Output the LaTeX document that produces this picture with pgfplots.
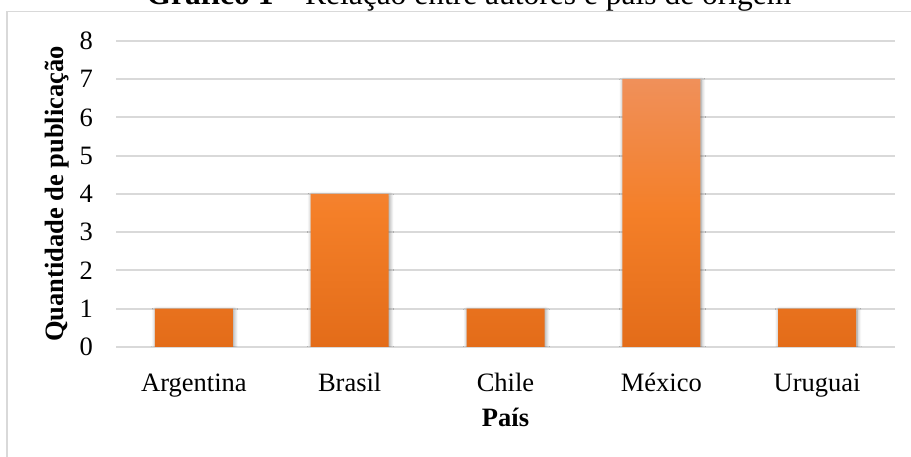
\documentclass[border=0pt]{standalone}
\usepackage{fontspec}
\setmainfont{Liberation Serif}
\usepackage{pgfplots}
\pgfplotsset{compat=1.18}
\usetikzlibrary{shadows.blur}

\definecolor{gridgray}{HTML}{D9D9D9}
\definecolor{framegray}{HTML}{D9D9D9}
\definecolor{barTop}{HTML}{F0905A}
\definecolor{barMid}{HTML}{F47F28}
\definecolor{barBot}{HTML}{E36C19}

\newcommand{\lblfont}{\fontsize{26.5}{31}\selectfont}

\begin{document}
\begin{tikzpicture}[x=1pt,y=1pt]
\useasboundingbox (0,0) rectangle (911,457);
% chart frame (only its left and top edges fall inside the page)
\draw[framegray, line width=1.3pt] (7,-20) -- (7,445.3) -- (940,445.3);
% caption
\node[anchor=base, inner sep=0pt, font=\fontsize{31.5}{36}\selectfont]
  at (469,452) {\textbf{Gráfico 1} – Relação entre autores e país de origem};
\begin{axis}[
  at={(116pt,110pt)}, anchor=south west,
  scale only axis, width=779pt, height=306pt,
  ybar, bar width=78pt,
  xmin=-0.5, xmax=4.5, ymin=0, ymax=8,
  ytick={0,...,8},
  xtick={0,...,4},
  xticklabels={Argentina,Brasil,Chile,México,Uruguai},
  axis line style={draw=none},
  tick style={draw=none},
  ymajorgrids,
  grid style={line width=2pt, gridgray},
  /pgf/number format/assume math mode=true,
  ticklabel style={font=\lblfont},
  xticklabel style={anchor=base, inner sep=0pt, yshift=-40pt},
  yticklabel style={anchor=east, inner sep=0pt, xshift=-23pt},
  xlabel={País},
  ylabel={Quantidade de publicação},
  every axis x label/.style={at={(axis description cs:0.5,0)}, anchor=base,
    yshift=-80pt, inner sep=0pt, font=\bfseries\lblfont},
  every axis y label/.style={at={(axis description cs:-0.0668,0.5)}, rotate=90,
    anchor=base, inner sep=0pt, font=\bfseries\lblfont},
]
\addplot[draw=none, top color=barTop, bottom color=barBot, middle color=barMid,
  blur shadow={shadow xshift=1pt, shadow yshift=-1.5pt,
    shadow blur radius=4pt, shadow blur steps=8, shadow opacity=45}]
  coordinates {(0,1) (1,4) (2,1) (3,7) (4,1)};
\end{axis}
\end{tikzpicture}
\end{document}
